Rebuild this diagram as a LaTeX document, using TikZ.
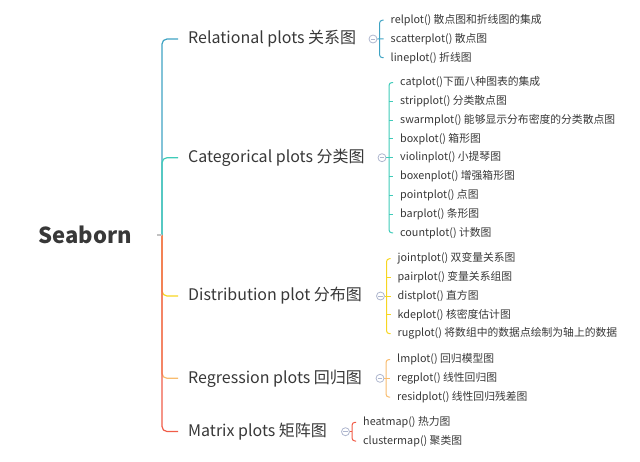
\documentclass[tikz,border=0pt]{standalone}
\usepackage{fontspec}
\setmainfont{Noto Sans CJK SC}
\usetikzlibrary{positioning}
\definecolor{relblue}{HTML}{3FA3C3}
\definecolor{catteal}{HTML}{3FCBB9}
\definecolor{distyellow}{HTML}{F7D622}
\definecolor{regorange}{HTML}{F8BC6E}
\definecolor{matred}{HTML}{F05C48}
\definecolor{rootline}{HTML}{C2C2C2}
\definecolor{foldgray}{HTML}{AEB6CE}
\definecolor{inkgray}{HTML}{383838}
\tikzset{
  topic/.style={anchor=west, inner xsep=10pt, inner ysep=0pt, text=inkgray,
    font=\fontsize{16}{19}\selectfont},
  kid/.style={anchor=west, inner xsep=7pt, inner ysep=0pt, text=inkgray,
    font=\fontsize{10.8}{13}\selectfont},
  fold/.style={circle, draw=foldgray, fill=white, line width=.8pt,
    minimum size=8pt, inner sep=0pt,
    path picture={\draw[foldgray, line width=.8pt]
      ([xshift=-2.2pt]path picture bounding box.center) --
      ([xshift=2.2pt]path picture bounding box.center);}},
  branch/.style={line width=1.2pt, rounded corners=5pt},
  twig/.style={line width=1pt, rounded corners=3pt},
}
\begin{document}
\begin{tikzpicture}[x=1pt, y=-1pt]
  \useasboundingbox (0,0) rectangle (640,461);
  % root
  \node[font=\fontsize{22}{26}\selectfont\bfseries, text=inkgray,
    inner xsep=25pt] (sb) at (85,235) {Seaborn};
  \coordinate (tr) at (162,235);
  % main topics
  \node[topic] (rel) at (178,39) {Relational plots 关系图};
  \node[topic] (cat) at (178,157.7) {Categorical plots 分类图};
  \node[topic] (dist) at (178,296) {Distribution plot 分布图};
  \node[topic] (reg) at (178,378.3) {Regression plots 回归图};
  \node[topic] (mat) at (178,431.5) {Matrix plots 矩阵图};
  % trunk
  \draw[branch, relblue] (tr) |- (rel.west);
  \draw[branch, catteal] (tr) |- (cat.west);
  \draw[branch, distyellow] (tr) |- (dist.west);
  \draw[branch, regorange] (tr) |- (reg.west);
  \draw[branch, matred] (tr) |- (mat.west);
  \draw[line width=1.2pt, rootline] (sb.east) -- (tr);

  % Relational
  \foreach \t [count=\i] in {relplot() 散点图和折线图的集成, scatterplot() 散点图,
      lineplot() 折线图}
    \node[kid] (rel\i) at (383.5,{20.2+18.75*(\i-1)}) {\t};
  \coordinate (relb) at (379.5,39);
  \draw[twig, relblue] (rel1.west) -| (relb) |- (rel3.west);
  \node[fold] (relf) at (373,39) {};
  \draw[twig, relblue] (relf.east) -- (rel2.west);

  % Categorical
  \foreach \t [count=\i] in {catplot()下面八种图表的集成, stripplot() 分类散点图,
      swarmplot() 能够显示分布密度的分类散点图, boxplot() 箱形图,
      violinplot() 小提琴图, boxenplot() 增强箱形图, pointplot() 点图,
      barplot() 条形图, countplot() 计数图}
    \node[kid] (cat\i) at (393,{82.5+18.8*(\i-1)}) {\t};
  \coordinate (catb) at (389,157.7);
  \draw[twig, catteal] (cat1.west) -| (catb) |- (cat9.west);
  \foreach \i in {2,...,8}
    \draw[twig, catteal] (catb |- cat\i.west) -- (cat\i.west);
  \node[fold] (catf) at (382,157.7) {};
  \draw[twig, catteal] (catf.east) -- (catb);

  % Distribution
  \foreach \t [count=\i] in {jointplot() 双变量关系图, pairplot() 变量关系组图,
      distplot() 直方图, kdeplot() 核密度估计图,
      rugplot() 将数组中的数据点绘制为轴上的数据}
    \node[kid] (dist\i) at (390.5,{258.7+18.75*(\i-1)}) {\t};
  \coordinate (distb) at (386.5,296);
  \draw[twig, distyellow] (dist1.west) -| (distb) |- (dist5.west);
  \foreach \i in {2,...,4}
    \draw[twig, distyellow] (distb |- dist\i.west) -- (dist\i.west);
  \node[fold] (distf) at (380.5,296) {};
  \draw[twig, distyellow] (distf.east) -- (distb);

  % Regression
  \foreach \t [count=\i] in {lmplot() 回归模型图, regplot() 线性回归图,
      residplot() 线性回归残差图}
    \node[kid] (reg\i) at (390,{359.5+18.8*(\i-1)}) {\t};
  \coordinate (regb) at (386,378.3);
  \draw[twig, regorange] (reg1.west) -| (regb) |- (reg3.west);
  \node[fold] (regf) at (380,378.3) {};
  \draw[twig, regorange] (regf.east) -- (reg2.west);

  % Matrix
  \node[kid] (mat1) at (356,422.3) {heatmap() 热力图};
  \node[kid] (mat2) at (356,441) {clustermap() 聚类图};
  \coordinate (matb) at (352,431.7);
  \draw[twig, matred] (mat1.west) -| (matb) |- (mat2.west);
  \node[fold] (matf) at (345.5,431.7) {};
  \draw[twig, matred] (matf.east) -- (matb);
\end{tikzpicture}
\end{document}
